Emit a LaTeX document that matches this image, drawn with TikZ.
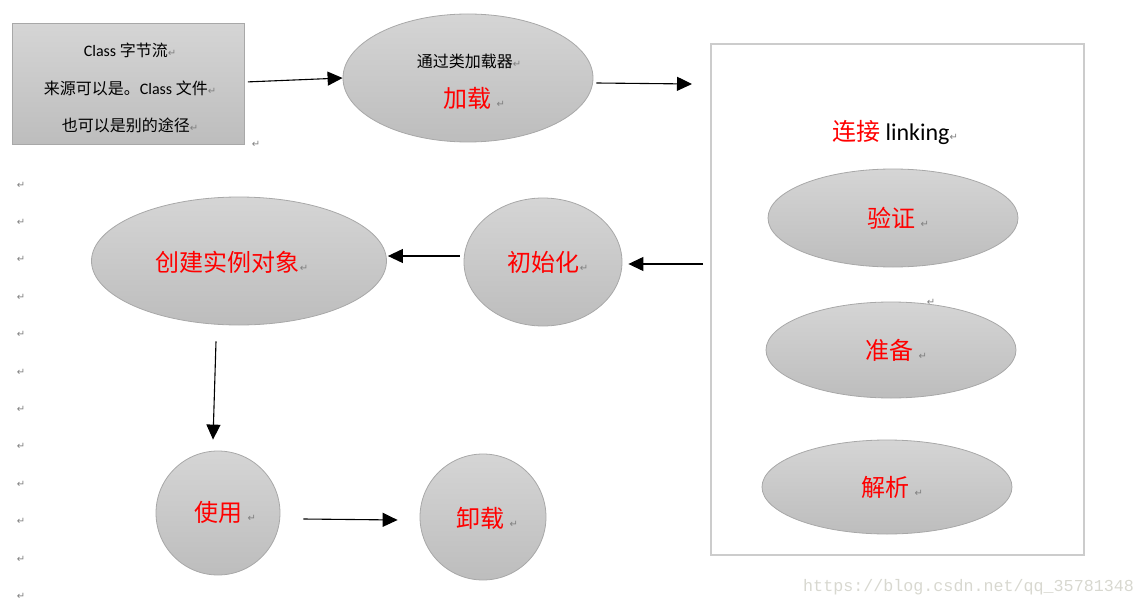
\documentclass[tikz,border=0pt]{standalone}
\usepackage{fontspec}
\setmainfont{Carlito}
\newfontfamily\cjk{Noto Sans CJK SC}
\newfontfamily\dv{DejaVu Sans}
\newfontfamily\wm{Liberation Mono}
\usetikzlibrary{shapes.geometric,arrows.meta}
\definecolor{shtop}{HTML}{D5D5D5}
\definecolor{shbot}{HTML}{BDBDBD}
\definecolor{edgec}{HTML}{A8A8A8}
\definecolor{framec}{HTML}{CCCCCC}
\definecolor{markc}{HTML}{808080}
\definecolor{wmc}{HTML}{D8D8D0}
\newcommand{\parmark}{{\dv\fontsize{10}{10}\selectfont\textcolor{markc}{↵}}}
\tikzset{
  shapebox/.style={shading=axis, top color=shtop, bottom color=shbot, draw=edgec, line width=0.8pt, inner sep=0pt},
  oval/.style={shapebox, ellipse},
  roundshape/.style={shapebox, circle},
  arr/.style={-{Triangle[length=15pt,width=14pt]}, line width=1.1pt},
  smalltext/.style={font=\fontsize{16}{16}\selectfont, inner sep=0pt},
  bigred/.style={font=\cjk\fontsize{24}{26}\selectfont, text=red, inner sep=0pt},
  lmark/.style={inner sep=0pt},
}
\begin{document}
\begin{tikzpicture}[x=1pt,y=-1pt]
\useasboundingbox (0,0) rectangle (1143,607);

% paragraph marks on the left
\foreach \i in {0,...,11}{
  \node[lmark] (pm\i) at (21,{185+37.4*\i}) {\parmark};
}
\node[lmark] (pmsrc) at (256,144) {\parmark};
\node[lmark] (pmlink) at (931,302) {\parmark};

% source rectangle
\node[shapebox, rectangle, minimum width=232pt, minimum height=121pt, anchor=north west] (src) at (12,23) {};
\node[smalltext] (src1) at (130,50) {Class {\cjk 字节流}\parmark};
\node[smalltext] (src2) at (130,88) {{\cjk 来源可以是。}Class {\cjk 文件}\parmark};
\node[smalltext] (src3) at (130,125) {{\cjk 也可以是别的途径}\parmark};

% loading ellipse
\node[oval, minimum width=250pt, minimum height=128pt] (load) at (468,78) {};
\node[font=\cjk\fontsize{16}{16}\selectfont, inner sep=0pt] (loadt1) at (469,61) {通过类加载器\parmark};
\node[bigred] (loadt2) at (474,98) {加载 \parmark};

% linking frame
\node[draw=framec, line width=1.8pt, minimum width=373pt, minimum height=511pt, anchor=north west, inner sep=0pt] (link) at (710,43) {};
\node[inner sep=0pt, font=\fontsize{24}{25}\selectfont] (linkt) at (895,132) {\textcolor{red}{\cjk 连接} linking\parmark};

\node[oval, minimum width=250pt, minimum height=98pt] (verify) at (893,218) {};
\node[bigred] (verifyt) at (898,218) {验证 \parmark};
\node[oval, minimum width=250pt, minimum height=96pt] (prepare) at (891,350) {};
\node[bigred] (preparet) at (896,350) {准备 \parmark};
\node[oval, minimum width=250pt, minimum height=94pt] (resolve) at (887,487) {};
\node[bigred] (resolvet) at (892,487) {解析 \parmark};

% init
\node[oval, minimum width=158pt, minimum height=128pt] (init) at (543,262) {};
\node[bigred] (initt) at (548,262) {初始化\parmark};

% create
\node[oval, minimum width=295pt, minimum height=128pt] (create) at (239,261) {};
\node[bigred] (createt) at (232,262) {创建实例对象\parmark};

% use, unload
\node[roundshape, minimum size=124pt] (use) at (218,513) {};
\node[bigred] (uset) at (225,512) {使用 \parmark};
\node[roundshape, minimum size=126pt] (unload) at (483,517) {};
\node[bigred] (unloadt) at (487,518) {卸载 \parmark};

% connectors
\coordinate (a2end) at (692,84);
\coordinate (a3start) at (703,264);
\draw[arr] ([xshift=3pt,yshift=2pt]src.east) -- (load.west);
\draw[arr] ([xshift=3pt,yshift=-5pt]load.east) -- (a2end);
\draw[arr] (a3start) -- ([xshift=6pt,yshift=-2pt]init.east);
\draw[arr] ([xshift=-4pt,yshift=6pt]init.west) -- ([xshift=1pt,yshift=5pt]create.east);
\draw[arr] ([xshift=-23pt,yshift=-16pt]create.south) -- ([xshift=-5pt,yshift=11pt]use.north);
\draw[arr] ([xshift=23pt,yshift=-6pt]use.east) -- ([xshift=-22pt,yshift=-3pt]unload.west);

% watermark
\node[anchor=west, inner sep=0pt, text=wmc, font=\wm\fontsize{16.7}{17}\selectfont] (wm) at (803,587) {https://blog.csdn.net/qq\_35781348};
\end{tikzpicture}
\end{document}
